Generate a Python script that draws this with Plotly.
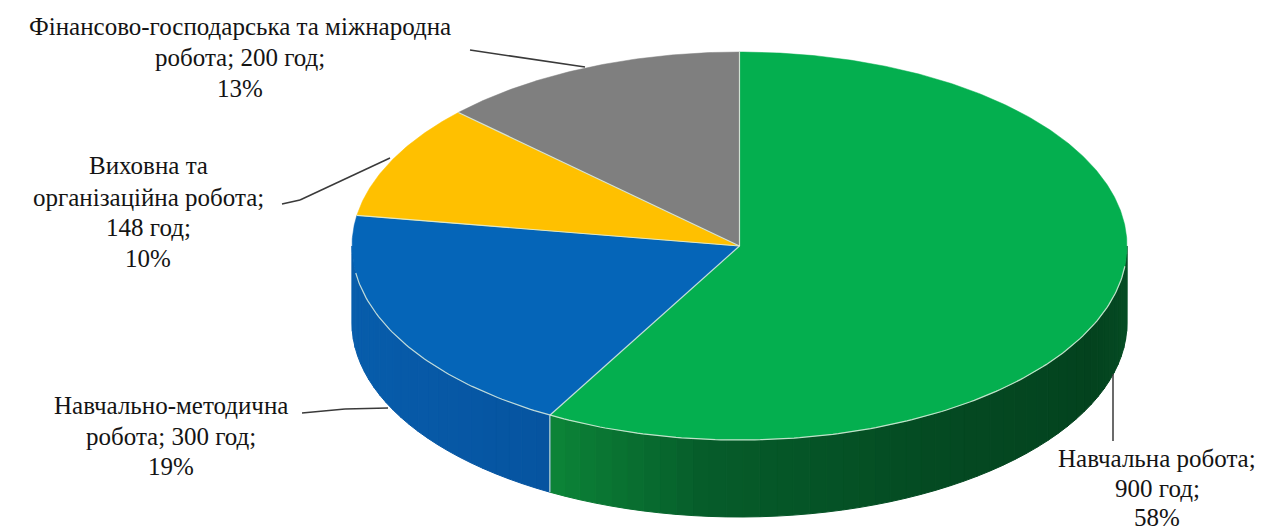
import numpy as np
import plotly.graph_objects as go

# ---------------- data ----------------
categories = [
    "Навчальна робота",
    "Навчально-методична робота",
    "Виховна та організаційна робота",
    "Фінансово-господарська та міжнародна робота",
]
hours = [900, 300, 148, 200]
percent_labels = ["58%", "19%", "10%", "13%"]
label_lines = [
    ["Навчальна робота;", "900 год;", "58%"],
    ["Навчально-методична", "робота; 300 год;", "19%"],
    ["Виховна та", "організаційна робота;", "148 год;", "10%"],
    ["Фінансово-господарська та міжнародна", "робота; 200 год;", "13%"],
]

# ---------------- style ----------------
top_colors = ["#04AF4F", "#0565B8", "#FFC000", "#7F7F7F"]
W, H = 1267, 532
OFF = 8  # default page body margin of the html page
CX, CY, RX, RY, DEPTH = 739.5, 246.0, 387.5, 194.0, 77.0
FONT = "Liberation Serif"
FS = 25


def pt(theta, dy=0.0):
    th = np.radians(theta)
    return CX + RX * np.sin(th), CY - RY * np.cos(th) + dy


def lerp_color(stops, t):
    for (t0, c0), (t1, c1) in zip(stops[:-1], stops[1:]):
        if t0 <= t <= t1:
            f = 0 if t1 == t0 else (t - t0) / (t1 - t0)
            c = [int(round(a + (b - a) * f)) for a, b in zip(c0, c1)]
            return "rgb(%d,%d,%d)" % tuple(c)
    c = stops[-1][1] if t > stops[-1][0] else stops[0][1]
    return "rgb(%d,%d,%d)" % tuple(c)


wall_stops = {
    0: [(90, (6, 80, 38)), (115, (3, 66, 30)), (150, (4, 74, 34)),
        (185, (6, 92, 42)), (210, (12, 134, 56))],
    1: [(209, (6, 84, 160)), (240, (7, 90, 168)), (270, (8, 94, 172))],
    2: [(0, (190, 140, 0)), (360, (190, 140, 0))],
    3: [(0, (90, 90, 90)), (360, (90, 90, 90))],
}

total = float(sum(hours))
fracs = [h / total for h in hours]
bounds = np.concatenate([[0.0], np.cumsum(fracs) * 360.0])

fig = go.Figure()

# ---- side walls (visible front half: 90..270 deg clockwise from top) ----
for i in range(len(hours)):
    a0, a1 = bounds[i], bounds[i + 1]
    s, e = max(a0, 90.0), min(a1, 270.0)
    if e <= s:
        continue
    n = max(2, int(np.ceil((e - s) / 2.5)))
    edges = np.linspace(s, e, n + 1)
    for k in range(n):
        t0, t1 = edges[k], edges[k + 1]
        ths = np.linspace(t0, t1, 5)
        xs_top, ys_top = pt(ths)
        xs_bot, ys_bot = pt(ths[::-1], DEPTH)
        xs = np.concatenate([xs_top, xs_bot, xs_top[:1]])
        ys = np.concatenate([ys_top, ys_bot, ys_top[:1]])
        col = lerp_color(wall_stops[i], (t0 + t1) / 2)
        fig.add_trace(go.Scatter(x=xs, y=ys, mode="lines", fill="toself",
                                 fillcolor=col, line=dict(color=col, width=1),
                                 hoverinfo="skip", showlegend=False))

# ---- top faces ----
for i in range(len(hours)):
    a0, a1 = bounds[i], bounds[i + 1]
    ths = np.linspace(a0, a1, max(8, int((a1 - a0) * 2)))
    ax, ay = pt(ths)
    xs = np.concatenate([[CX], ax, [CX]])
    ys = np.concatenate([[CY], ay, [CY]])
    fig.add_trace(go.Scatter(x=xs, y=ys, mode="lines", fill="toself",
                             fillcolor=top_colors[i],
                             line=dict(color=top_colors[i], width=0.5),
                             name=categories[i],
                             hoverinfo="skip", showlegend=False))

# ---- light separator lines ----
sep = "rgba(225,240,225,0.85)"
for b in bounds[:-1]:
    x1, y1 = pt(b)
    fig.add_trace(go.Scatter(x=[CX, x1], y=[CY, y1], mode="lines",
                             line=dict(color=sep, width=1.2),
                             hoverinfo="skip", showlegend=False))
    if 90 < b < 270:
        xb, yb = pt(b, DEPTH)
        fig.add_trace(go.Scatter(x=[x1, xb], y=[y1, yb], mode="lines",
                                 line=dict(color=sep, width=1.2),
                                 hoverinfo="skip", showlegend=False))
rim = np.linspace(96, 262, 200)
rx, ry = pt(rim)
fig.add_trace(go.Scatter(x=rx, y=ry, mode="lines",
                         line=dict(color=sep, width=1.2),
                         hoverinfo="skip", showlegend=False))

# ---- labels (paper-referenced annotations) ----
label_pos = [
    (1157, [458, 488, 517]),
    (171, [405, 436, 466]),
    (148, [165, 197, 228, 259]),
    (240, [26, 58, 88]),
]
annotations = []
for i, (xc, ycs) in enumerate(label_pos):
    for txt, yc in zip(label_lines[i], ycs):
        annotations.append(dict(
            x=(xc - OFF) / (W - OFF), y=1 - (yc - OFF) / (H - OFF),
            xref="paper", yref="paper", text=txt,
            showarrow=False, xanchor="center", yanchor="middle",
            font=dict(family=FONT, size=FS, color="#141414")))

# ---- leader lines ----
leaders = [
    [(1113, 374), (1113, 441)],
    [(302, 413), (345, 409), (388, 408)],
    [(282, 204), (300, 200), (390, 158)],
    [(470, 50), (585, 67)],
]
shapes = []
for pts in leaders:
    for (x0, y0), (x1, y1) in zip(pts[:-1], pts[1:]):
        shapes.append(dict(type="line", xref="x", yref="y", x0=x0, y0=y0,
                           x1=x1, y1=y1,
                           line=dict(color="#3a3a3a", width=1.5)))

fig.update_layout(
    width=W - OFF, height=H - OFF,
    margin=dict(l=0, r=0, t=0, b=0),
    paper_bgcolor="white", plot_bgcolor="white",
    xaxis=dict(range=[OFF, W], visible=False, fixedrange=True),
    yaxis=dict(range=[H, OFF], visible=False, fixedrange=True),
    annotations=annotations,
    shapes=shapes,
    showlegend=False,
)

fig.write_html("out.html")
